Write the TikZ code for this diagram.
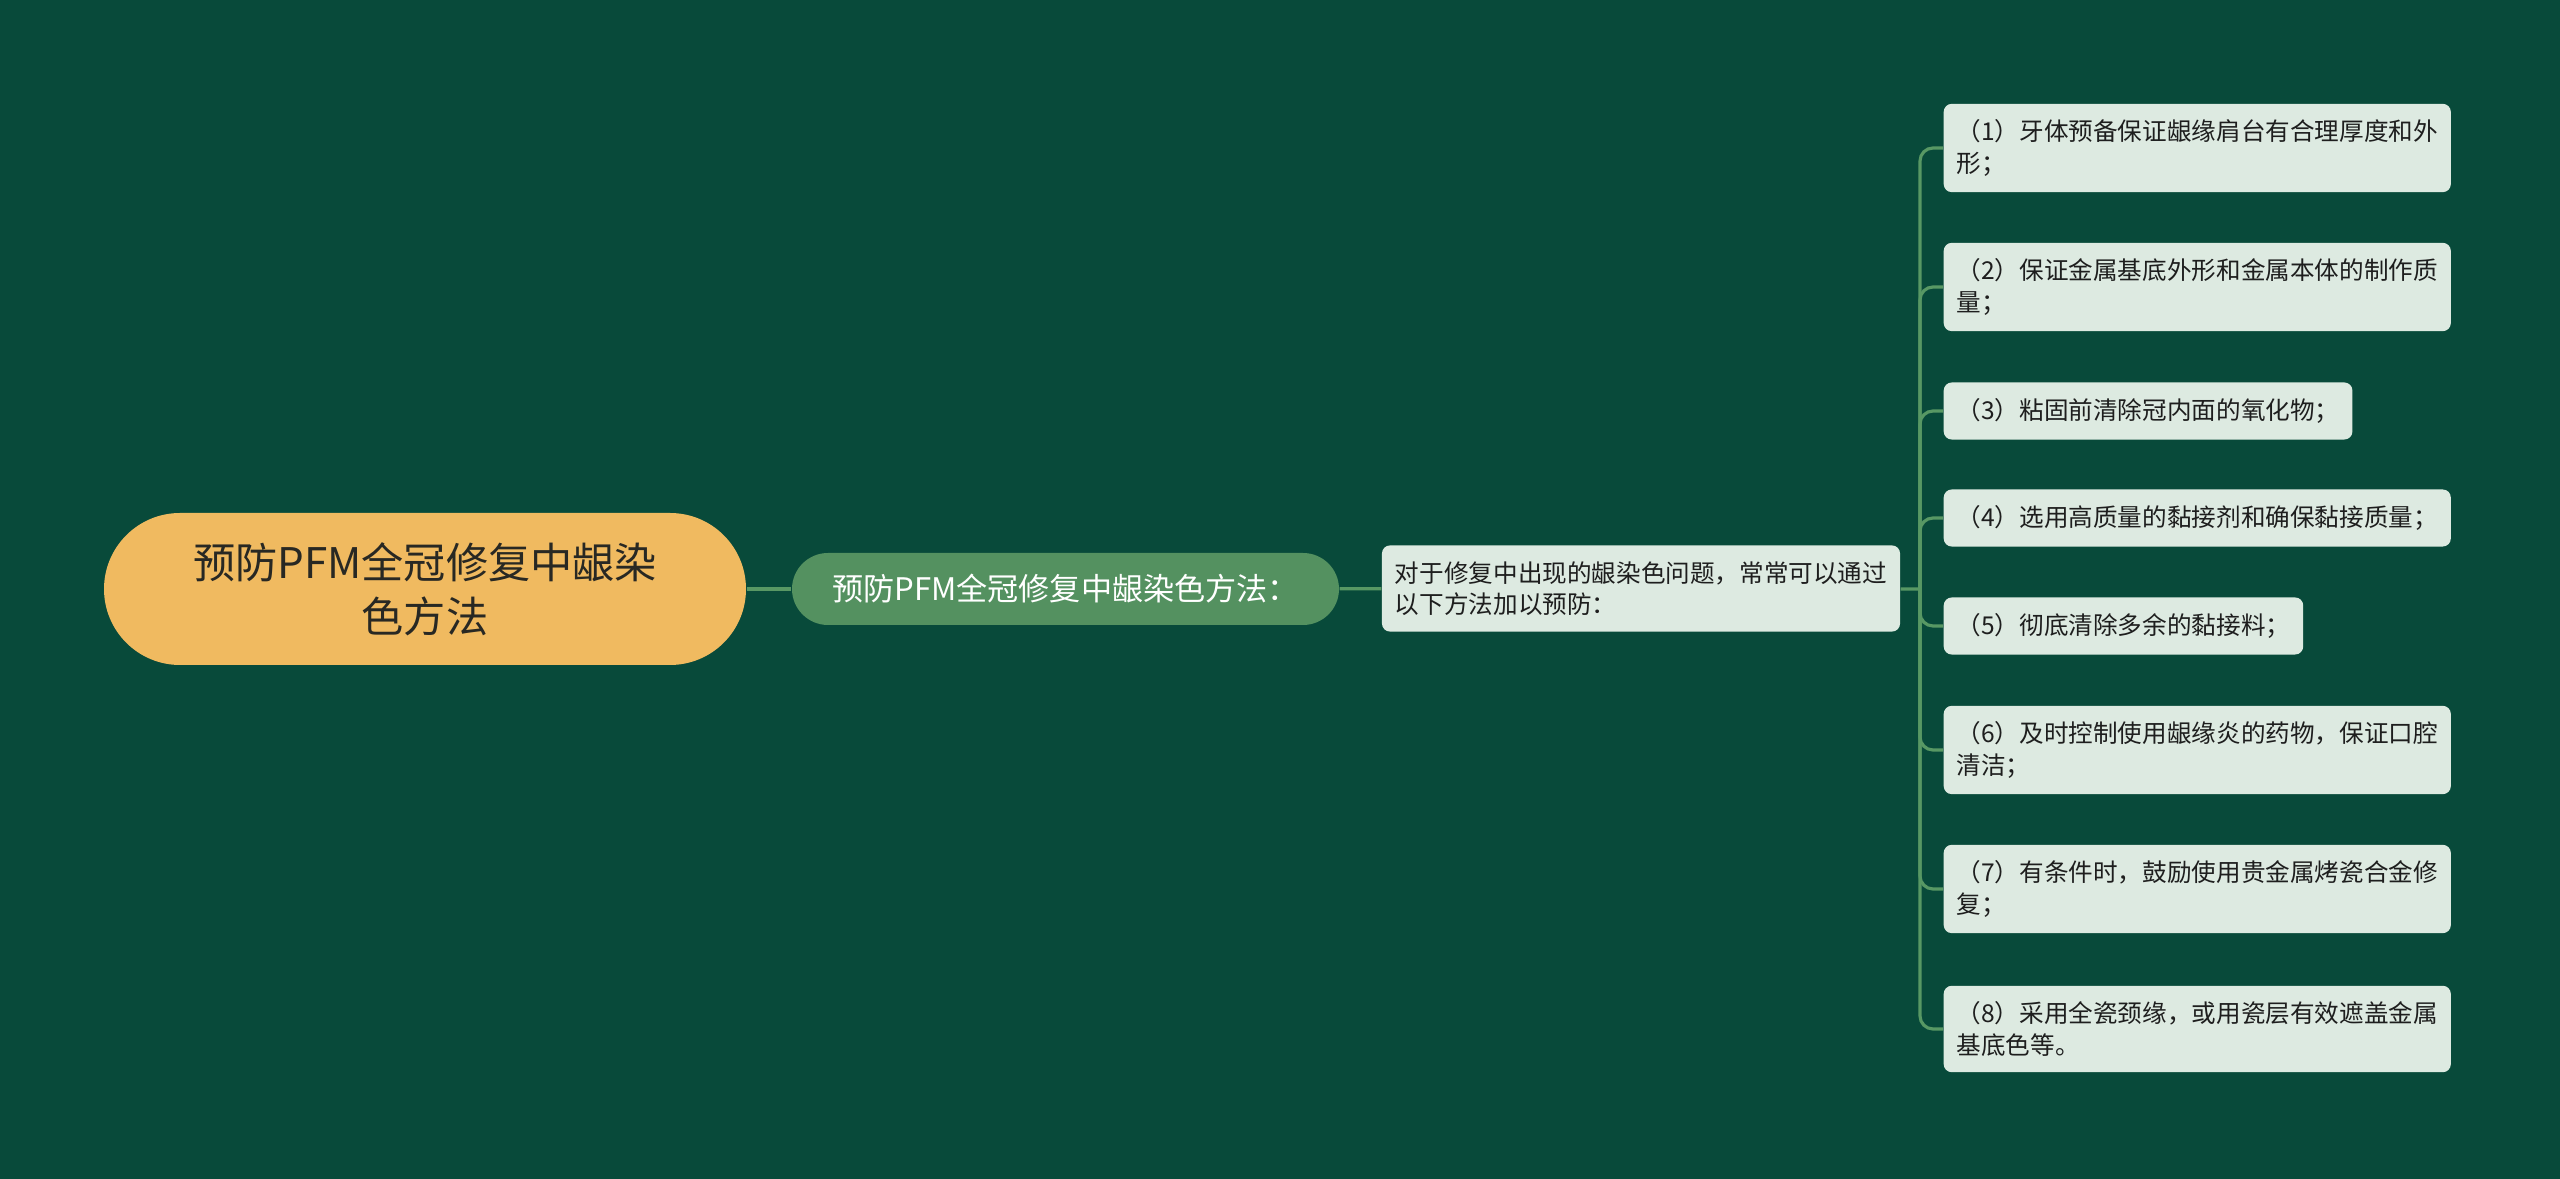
\documentclass[tikz,border=0pt]{standalone}
\usepackage{fontspec}
\setmainfont{Noto Sans CJK SC}
\definecolor{bgdark}{RGB}{8,74,58}
\definecolor{rootfill}{RGB}{240,186,96}
\definecolor{roottext}{RGB}{40,40,35}
\definecolor{subfill}{RGB}{84,145,96}
\definecolor{leaffill}{RGB}{221,234,225}
\definecolor{leaftext}{RGB}{30,30,30}
\definecolor{linkgreen}{RGB}{88,152,100}

\begin{document}
\begin{tikzpicture}[
	rootbox/.style={rounded corners=0.76cm,fill=rootfill,text=roottext,minimum width=6.42cm,minimum height=1.52cm,align=center,font=\fontsize{12}{15.4}\selectfont},
	subbox/.style={rounded corners=0.36cm,fill=subfill,text=white,minimum width=5.47cm,minimum height=0.72cm,font=\fontsize{8.85}{10}\selectfont},
	leafbox/.style={rounded corners=0.08cm,fill=leaffill,text=leaftext,inner xsep=0.13cm,inner ysep=0.16cm,align=left,font=\fontsize{7}{8.9}\selectfont},
	link/.style={draw=linkgreen,line width=0.9pt}
	]
		\fill [bgdark] (0,0) rectangle (25.6,-11.79);
		\useasboundingbox (0,0) rectangle (25.6,-11.79);
		% main topic and branch
		\node [rootbox] (root) at (4.25,-5.89) {预防PFM全冠修复中龈染\\色方法};
		\node [subbox] (sub) at (10.655,-5.89) {预防PFM全冠修复中龈染色方法：};
		\node [leafbox] (intro) at (16.41,-5.885) {对于修复中出现的龈染色问题，常常可以通过\\以下方法加以预防：};
		\draw [link] (root) -- (sub);
		\draw [link] (sub) -- (intro);
		\coordinate (fork) at (19.20,-5.89);
		\draw [link] (intro) -- (fork);
		% measures
		\node [leafbox,anchor=west] (m1) at (19.43,-1.48) {（1）牙体预备保证龈缘肩台有合理厚度和外\\形；};
		\node [leafbox,anchor=west] (m2) at (19.43,-2.87) {（2）保证金属基底外形和金属本体的制作质\\量；};
		\node [leafbox,anchor=west] (m3) at (19.43,-4.11) {（3）粘固前清除冠内面的氧化物；};
		\node [leafbox,anchor=west] (m4) at (19.43,-5.18) {（4）选用高质量的黏接剂和确保黏接质量；};
		\node [leafbox,anchor=west] (m5) at (19.43,-6.26) {（5）彻底清除多余的黏接料；};
		\node [leafbox,anchor=west] (m6) at (19.43,-7.50) {（6）及时控制使用龈缘炎的药物，保证口腔\\清洁；};
		\node [leafbox,anchor=west] (m7) at (19.43,-8.89) {（7）有条件时，鼓励使用贵金属烤瓷合金修\\复；};
		\node [leafbox,anchor=west] (m8) at (19.43,-10.29) {（8）采用全瓷颈缘，或用瓷层有效遮盖金属\\基底色等。};
		\draw [link,rounded corners=0.13cm] (fork) |- (m1.west);
		\draw [link,rounded corners=0.13cm] (fork) |- (m2.west);
		\draw [link,rounded corners=0.13cm] (fork) |- (m3.west);
		\draw [link,rounded corners=0.13cm] (fork) |- (m4.west);
		\draw [link,rounded corners=0.13cm] (fork) |- (m5.west);
		\draw [link,rounded corners=0.13cm] (fork) |- (m6.west);
		\draw [link,rounded corners=0.13cm] (fork) |- (m7.west);
		\draw [link,rounded corners=0.13cm] (fork) |- (m8.west);
\end{tikzpicture}
\end{document}
